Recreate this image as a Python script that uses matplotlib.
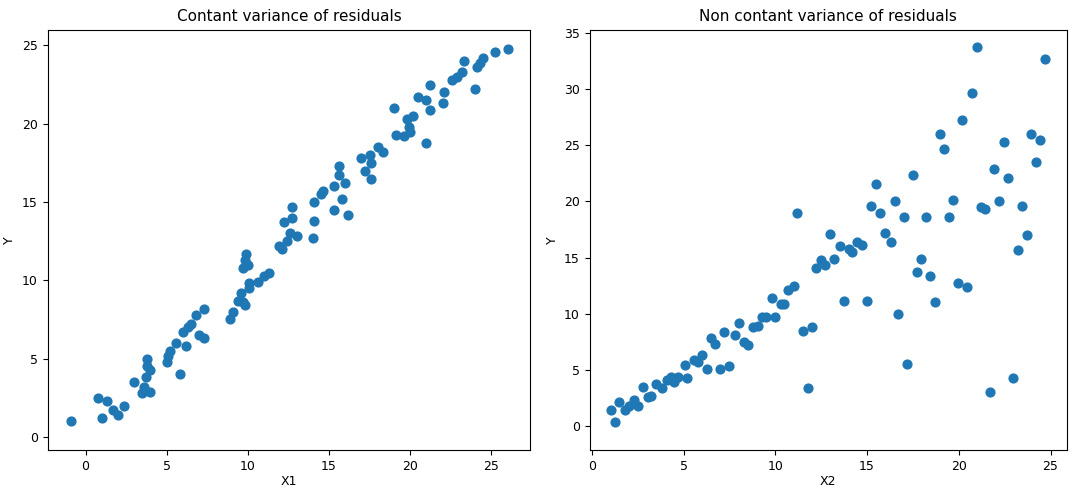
import matplotlib
matplotlib.use("Agg")
import matplotlib.pyplot as plt

x1 = [-0.9,0.8,1.0,1.3,1.7,2.0,2.4,3.0,3.5,3.6,3.7,3.8,3.8,4.0,4.0,5.0,5.1,5.2,5.6,5.8,6.0,6.2,6.3,6.5,6.8,7.0,7.3,7.3,8.9,9.1,9.4,9.6,9.7,9.8,9.7,9.8,9.9,10.0,10.1,10.1,10.6,11.0,11.3,11.9,12.1,12.2,12.4,12.6,12.7,12.7,13.0,14.0,14.1,14.1,14.5,14.6,15.3,15.3,15.6,15.6,15.8,16.0,16.2,17.0,17.2,17.6,17.6,17.5,18.0,18.3,19.0,19.1,19.6,19.8,19.9,20.0,20.2,20.5,21.0,21.0,21.2,21.2,22.0,22.1,22.6,22.9,23.2,23.3,24.0,24.1,24.3,24.5,25.2,26.0]
y1 = [1.0,2.5,1.2,2.3,1.7,1.4,2.0,3.5,2.8,3.2,3.8,5.0,4.5,4.3,2.9,4.8,5.2,5.5,6.0,4.0,6.7,5.8,7.0,7.2,7.8,6.5,6.3,8.2,7.5,8.0,8.7,9.2,8.6,8.4,10.8,11.3,11.7,11.0,9.5,9.8,9.9,10.3,10.5,12.2,12.0,13.7,12.5,13.0,14.7,14.0,12.8,12.7,13.8,15.0,15.5,15.7,16.0,14.5,16.7,17.3,15.2,16.2,14.2,17.8,17.0,17.5,16.5,18.0,18.5,18.2,21.0,19.3,19.2,20.3,19.8,19.5,20.5,21.7,21.5,18.8,22.5,20.9,21.3,22.0,22.8,23.0,23.3,24.0,22.2,23.6,23.9,24.2,24.6,24.8]

x2 = [1.04,1.25,1.5,1.8,2.0,2.3,2.5,2.76,3.05,3.2,3.5,3.8,4.1,4.3,4.5,4.7,5.05,5.2,5.55,5.76,6.0,6.3,6.5,6.7,7.0,7.2,7.5,7.8,8.0,8.3,8.5,8.8,9.05,9.27,9.5,9.8,10.0,10.3,10.45,10.7,11.0,11.2,11.5,11.8,12.0,12.2,12.5,12.7,13.0,13.2,13.5,13.76,14.0,14.2,14.45,14.7,15.0,15.2,15.5,15.7,16.0,16.3,16.5,16.7,17.0,17.2,17.5,17.7,17.96,18.2,18.45,18.7,19.0,19.2,19.45,19.7,19.96,20.2,20.45,20.7,21.0,21.2,21.45,21.7,21.9,22.2,22.45,22.7,22.96,23.2,23.45,23.7,23.96,24.2,24.45,24.7]
y2 = [1.43,0.39,2.1,1.4,1.8,2.3,1.8,3.5,2.6,2.7,3.7,3.35,4.1,4.4,3.95,4.4,5.4,4.3,5.9,5.7,6.3,5.1,7.8,7.3,5.1,8.4,5.3,8.1,9.2,7.5,7.2,8.85,8.9,9.7,9.75,11.4,9.7,10.9,10.9,12.1,12.5,19.0,8.5,3.4,8.8,14.1,14.8,14.3,17.1,14.85,16.0,11.1,15.8,15.5,16.4,16.1,11.1,19.6,21.6,19.0,17.2,16.4,20.0,10.0,18.6,5.5,22.4,13.75,14.9,18.65,13.4,11.0,26.0,24.7,18.6,20.1,12.7,27.3,12.35,29.7,33.8,19.5,19.3,3.06,22.9,20.0,25.3,22.1,4.3,15.7,19.6,17.0,26.0,23.5,25.5,32.7]

plt.rcParams['xtick.labelsize'] = 9
plt.rcParams['ytick.labelsize'] = 9
plt.rcParams['axes.labelsize'] = 9
plt.rcParams['axes.titlesize'] = 11

fig = plt.figure(figsize=(10.8, 4.88), dpi=100)
ax1 = fig.add_axes([0.044, 0.078, 0.447, 0.861])
ax2 = fig.add_axes([0.546, 0.078, 0.442, 0.861])

ax1.scatter(x1, y1, color="#1f77b4", s=40)
ax1.set_xlim(-2.34, 27.4)
ax1.set_ylim(-0.83, 26.0)
ax1.set_title("Contant variance of residuals")
ax1.set_xlabel("X1", labelpad=2)
ax1.set_ylabel("Y")

ax2.scatter(x2, y2, color="#1f77b4", s=40)
ax2.set_xlim(-0.12, 25.9)
ax2.set_ylim(-2.14, 35.3)
ax2.set_title("Non contant variance of residuals")
ax2.set_xlabel("X2", labelpad=2)
ax2.set_ylabel("Y")

fig.savefig("out.png", dpi=100)
